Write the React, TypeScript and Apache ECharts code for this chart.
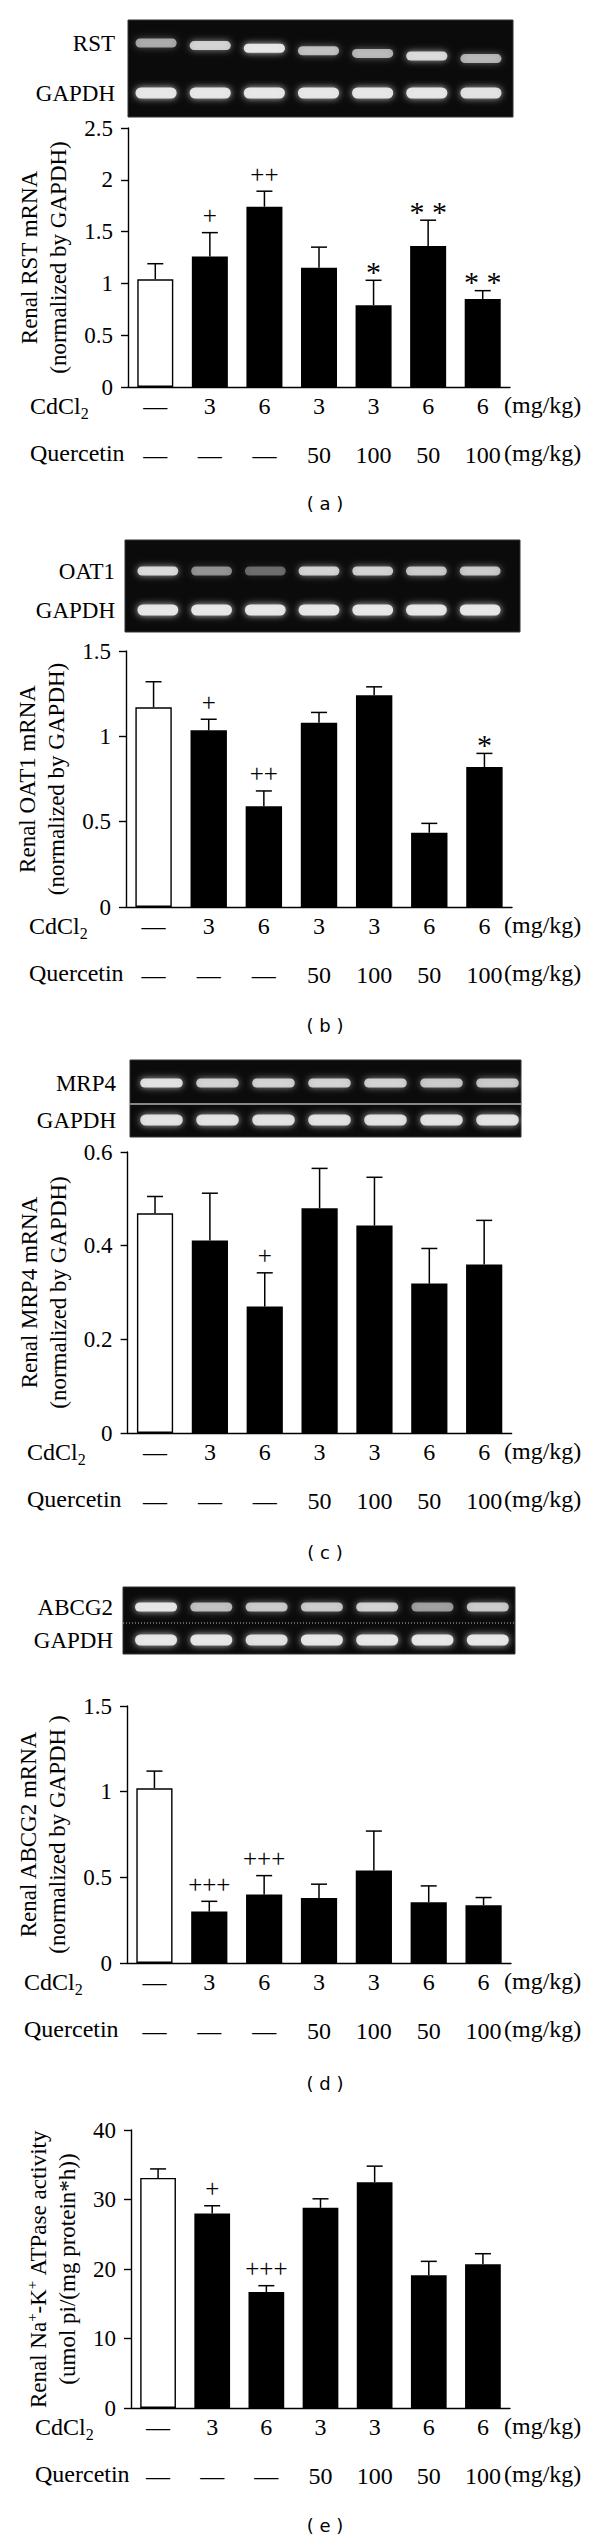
import React, { useEffect, useRef } from 'react';
import * as echarts from 'echarts';

// ---------- data ----------
const cdcl2Labels = ['—', '3', '6', '3', '3', '6', '6'];
const quercetinLabels = ['—', '—', '—', '50', '100', '50', '100'];

const rstMean = [1.04, 1.26, 1.74, 1.15, 0.79, 1.36, 0.85];
const rstSD = [0.15, 0.23, 0.15, 0.2, 0.24, 0.25, 0.08];
const rstMarks = ['', '+', '++', '', '*', '**', '**'];

const oat1Mean = [1.17, 1.035, 0.59, 1.08, 1.24, 0.435, 0.82];
const oat1SD = [0.15, 0.065, 0.09, 0.06, 0.05, 0.055, 0.08];
const oat1Marks = ['', '+', '++', '', '', '', '*'];

const mrp4Mean = [0.469, 0.411, 0.27, 0.48, 0.443, 0.319, 0.36];
const mrp4SD = [0.036, 0.101, 0.072, 0.085, 0.103, 0.075, 0.094];
const mrp4Marks = ['', '', '+', '', '', '', ''];

const abcg2Mean = [1.02, 0.3, 0.4, 0.38, 0.54, 0.355, 0.337];
const abcg2SD = [0.1, 0.06, 0.11, 0.08, 0.23, 0.095, 0.045];
const abcg2Marks = ['', '+++', '+++', '', '', '', ''];

const atpMean = [33.1, 28.0, 16.7, 28.8, 32.5, 19.1, 20.7];
const atpSD = [1.3, 1.1, 0.9, 1.3, 2.3, 2.0, 1.5];
const atpMarks = ['', '+', '+++', '', '', '', ''];

// gel band intensities (0..1) per lane
const rstBand = [0.65, 0.85, 1.0, 0.75, 0.72, 0.9, 0.7];
const rstGapdh = [1, 1, 1, 1, 1, 1, 0.95];
const oat1Band = [0.9, 0.55, 0.4, 0.85, 0.85, 0.8, 0.8];
const oat1Gapdh = [1, 1, 1, 1, 1, 1, 1];
const mrp4Band = [0.95, 0.85, 0.85, 0.85, 0.85, 0.8, 0.8];
const mrp4Gapdh = [0.95, 0.95, 0.95, 0.95, 0.95, 0.95, 0.95];
const abcg2Band = [1.0, 0.75, 0.8, 0.8, 0.85, 0.6, 0.8];
const abcg2Gapdh = [1, 1, 0.95, 1, 1, 1, 1];

// ---------- layout / style ----------
const SERIF = 'Liberation Serif';
const SANS = 'DejaVu Sans';
const ROW_FONT = 24;

type Panel = {
  mean: number[]; sd: number[]; marks: string[]; yMax: number; step: number;
  title: string; rich?: any; gene?: string; band?: number[]; gapdh?: number[]; caption: string;
  grid: { left: number; top: number; width: number; height: number };
  gelBox?: { left: number; top: number; width: number; height: number };
  gelGrid?: { left: number; top: number; width: number; height: number };
  labelRight?: number; drift?: number; divider?: { y: number; dashed: boolean };
  rowX: number; capGap: number; nameGap: number;
};

const panels: Panel[] = [
  {
    mean: rstMean, sd: rstSD, marks: rstMarks, yMax: 2.5, step: 0.5,
    title: 'Renal RST mRNA\n(normalized by GAPDH)', gene: 'RST', band: rstBand, gapdh: rstGapdh, caption: '( a )',
    grid: { left: 128, top: 128, width: 382, height: 259 },
    gelBox: { left: 128, top: 20, width: 385, height: 97 },
    gelGrid: { left: 129, top: 18, width: 379, height: 100 },
    labelRight: 115, drift: 2.6, rowX: 30, capGap: 116, nameGap: 52,
  },
  {
    mean: oat1Mean, sd: oat1SD, marks: oat1Marks, yMax: 1.5, step: 0.5,
    title: 'Renal OAT1 mRNA\n(normalized by GAPDH)', gene: 'OAT1', band: oat1Band, gapdh: oat1Gapdh, caption: '( b )',
    grid: { left: 126, top: 651, width: 386, height: 256 },
    gelBox: { left: 125, top: 540, width: 395, height: 92 },
    gelGrid: { left: 131, top: 551.5, width: 376, height: 78 },
    labelRight: 115, drift: 0, rowX: 29, capGap: 118, nameGap: 50,
  },
  {
    mean: mrp4Mean, sd: mrp4SD, marks: mrp4Marks, yMax: 0.6, step: 0.2,
    title: 'Renal MRP4 mRNA\n(normalized by GAPDH)', gene: 'MRP4', band: mrp4Band, gapdh: mrp4Gapdh, caption: '( c )',
    grid: { left: 127.6, top: 1152, width: 384, height: 281 },
    gelBox: { left: 130, top: 1060, width: 391, height: 77 },
    gelGrid: { left: 133.5, top: 1064.5, width: 392, height: 74 },
    labelRight: 116, drift: 0, divider: { y: 1104, dashed: false }, rowX: 27, capGap: 119, nameGap: 52,
  },
  {
    mean: abcg2Mean, sd: abcg2SD, marks: abcg2Marks, yMax: 1.5, step: 0.5,
    title: 'Renal ABCG2 mRNA\n(normalized by GAPDH )', gene: 'ABCG2', band: abcg2Band, gapdh: abcg2Gapdh, caption: '( d )',
    grid: { left: 127, top: 1706, width: 384, height: 257 },
    gelBox: { left: 123, top: 1587, width: 392, height: 67 },
    gelGrid: { left: 128.4, top: 1590.5, width: 387, height: 66 },
    labelRight: 113, drift: 0, divider: { y: 1623, dashed: true }, rowX: 24, capGap: 120, nameGap: 51,
  },
  {
    mean: atpMean, sd: atpSD, marks: atpMarks, yMax: 40, step: 10,
    title: 'Renal Na{sup|+}-K{sup|+} ATPase activity\n(umol pi/(mg protein*h))',
    rich: { sup: { fontSize: 15, fontFamily: SERIF, verticalAlign: 'top', lineHeight: 14, color: '#000' } },
    caption: '( e )',
    grid: { left: 131, top: 2130, width: 379, height: 278 },
    rowX: 35, capGap: 117, nameGap: 49,
  },
];

function buildOption() {
  const grid: any[] = [];
  const xAxis: any[] = [];
  const yAxis: any[] = [];
  const series: any[] = [];
  const graphic: any[] = [];

  panels.forEach((p) => {
    // ----- bar chart -----
    const gi = grid.length;
    grid.push({ ...p.grid, containLabel: false });
    const xi = xAxis.length;
    xAxis.push({
      type: 'category', gridIndex: gi, data: cdcl2Labels, position: 'bottom',
      axisLine: { show: true, lineStyle: { color: '#000', width: 1.4 } },
      axisTick: { show: false },
      axisLabel: { interval: 0, margin: 7, color: '#000', fontSize: ROW_FONT, fontFamily: SERIF },
    });
    xAxis.push({
      type: 'category', gridIndex: gi, data: quercetinLabels, position: 'bottom', offset: 49,
      axisLine: { show: false }, axisTick: { show: false },
      axisLabel: { interval: 0, margin: 7, color: '#000', fontSize: ROW_FONT, fontFamily: SERIF },
    });
    const yi = yAxis.length;
    yAxis.push({
      type: 'value', gridIndex: gi, min: 0, max: p.yMax, interval: p.step,
      axisLine: { show: true, lineStyle: { color: '#000', width: 1.4 } },
      axisTick: { show: true, length: 7, lineStyle: { color: '#000', width: 1.4 } },
      axisLabel: { margin: 15, color: '#000', fontSize: 23, fontFamily: SERIF },
      splitLine: { show: false },
      name: p.title, nameLocation: 'middle', nameRotate: 90, nameGap: p.nameGap,
      nameTextStyle: { color: '#000', fontSize: 23, lineHeight: 29, fontFamily: SERIF, rich: p.rich },
    });
    series.push({
      type: 'bar', xAxisIndex: xi, yAxisIndex: yi, barWidth: '66%', z: 2,
      data: p.mean.map((v, i) => ({
        value: v,
        itemStyle: i === 0
          ? { color: '#fff', borderColor: '#000', borderWidth: 1.4 }
          : { color: '#000' },
      })),
    });
    const marks = p.marks;
    series.push({
      type: 'custom', xAxisIndex: xi, yAxisIndex: yi, z: 5,
      data: p.mean.map((v, i) => [i, v, p.sd[i]]),
      renderItem: (params: any, api: any) => {
        const i = api.value(0);
        const m = api.value(1);
        const s = api.value(2);
        const p0 = api.coord([i, m]);
        const p1 = api.coord([i, m + s]);
        const half = 8;
        const children: any[] = [
          { type: 'line', shape: { x1: p0[0], y1: p0[1], x2: p1[0], y2: p1[1] }, style: { stroke: '#000', lineWidth: 1.5 } },
          { type: 'line', shape: { x1: p1[0] - half, y1: p1[1], x2: p1[0] + half, y2: p1[1] }, style: { stroke: '#000', lineWidth: 1.5 } },
        ];
        const mk = marks[params.dataIndex];
        if (mk) {
          const star = mk.indexOf('*') >= 0;
          children.push({
            type: 'text',
            style: {
              text: star ? mk.split('').join(' ') : mk,
              x: p1[0], y: p1[1] - (star ? 9 : 17),
              align: 'center', verticalAlign: 'middle',
              fontSize: star ? 30 : 25, fontFamily: SERIF, fill: '#000',
            },
          });
        }
        return { type: 'group', children };
      },
    });

    // ----- row labels & caption -----
    const bottom = p.grid.top + p.grid.height;
    graphic.push({
      type: 'text', x: p.rowX, y: bottom + 19,
      style: {
        text: 'CdCl{sub|2}', fill: '#000', fontSize: ROW_FONT, fontFamily: SERIF,
        verticalAlign: 'middle', align: 'left', lineHeight: 30,
        rich: { sub: { fontSize: 16, fontFamily: SERIF, verticalAlign: 'bottom', lineHeight: 15 } },
      },
    });
    graphic.push({
      type: 'text', x: p.rowX, y: bottom + 66,
      style: { text: 'Quercetin', fill: '#000', fontSize: ROW_FONT, fontFamily: SERIF, verticalAlign: 'middle', align: 'left' },
    });
    graphic.push({
      type: 'text', x: 504, y: bottom + 18,
      style: { text: '(mg/kg)', fill: '#000', fontSize: ROW_FONT, fontFamily: SERIF, verticalAlign: 'middle', align: 'left' },
    });
    graphic.push({
      type: 'text', x: 504, y: bottom + 66,
      style: { text: '(mg/kg)', fill: '#000', fontSize: ROW_FONT, fontFamily: SERIF, verticalAlign: 'middle', align: 'left' },
    });
    graphic.push({
      type: 'text', x: 325, y: bottom + p.capGap,
      style: { text: p.caption, fill: '#000', fontSize: 18, fontFamily: SANS, verticalAlign: 'middle', align: 'center' },
    });

    // ----- gel -----
    if (p.gelBox && p.gelGrid && p.band && p.gapdh) {
      graphic.push({
        type: 'rect', z: -10,
        shape: { x: p.gelBox.left, y: p.gelBox.top, width: p.gelBox.width, height: p.gelBox.height },
        style: { fill: '#0b0b0b', stroke: '#333', lineWidth: 1 },
      });
      if (p.divider) {
        graphic.push({
          type: 'line', z: 20,
          shape: { x1: p.gelBox.left, y1: p.divider.y, x2: p.gelBox.left + p.gelBox.width, y2: p.divider.y },
          style: { stroke: p.divider.dashed ? '#bbb' : '#888', lineWidth: p.divider.dashed ? 1 : 2, lineDash: p.divider.dashed ? [1, 2] : null },
        });
      }
      const ggi = grid.length;
      grid.push({ ...p.gelGrid, containLabel: false });
      const gxi = xAxis.length;
      xAxis.push({ type: 'category', gridIndex: ggi, data: cdcl2Labels.map((_, i) => 'L' + (i + 1)), show: false });
      const gyi = yAxis.length;
      yAxis.push({
        type: 'category', gridIndex: ggi, data: ['GAPDH', p.gene],
        axisLine: { show: false }, axisTick: { show: false }, splitLine: { show: false },
        axisLabel: { margin: p.gelGrid.left - (p.labelRight as number), color: '#000', fontSize: 23, fontFamily: SERIF },
      });
      const drift = p.drift || 0;
      const bandData: any[] = [];
      p.band.forEach((v, i) => bandData.push([i, 1, v]));
      p.gapdh.forEach((v, i) => bandData.push([i, 0, v]));
      series.push({
        type: 'custom', xAxisIndex: gxi, yAxisIndex: gyi, z: 10, clip: false,
        data: bandData,
        renderItem: (params: any, api: any) => {
          const lane = api.value(0);
          const row = api.value(1);
          const v = api.value(2);
          const c = api.coord([lane, row]);
          const cw = api.size([1, 0])[0];
          const w = cw * 0.76;
          const h = row === 1 ? 9 : 11;
          const dy = row === 1 ? drift * lane : 0;
          return {
            type: 'rect',
            shape: { x: c[0] - w / 2, y: c[1] - h / 2 + dy, width: w, height: h, r: h / 2 },
            style: { fill: `rgba(235,235,235,${v * 0.95})`, shadowBlur: 7, shadowColor: `rgba(255,255,255,${v * 0.8})` },
          };
        },
      });
    }
  });

  return {
    animation: false,
    backgroundColor: '#fff',
    grid, xAxis, yAxis, series, graphic,
  };
}

export default function App() {
  const ref = useRef<HTMLDivElement>(null);
  useEffect(() => {
    if (!ref.current) return;
    const chart = echarts.init(ref.current, undefined, { renderer: 'svg' });
    chart.setOption(buildOption() as any);
    return () => chart.dispose();
  }, []);
  return (
    <div
      ref={ref}
      style={{ position: 'absolute', left: 0, top: 0, width: 600, height: 2541, background: '#fff' }}
    />
  );
}
